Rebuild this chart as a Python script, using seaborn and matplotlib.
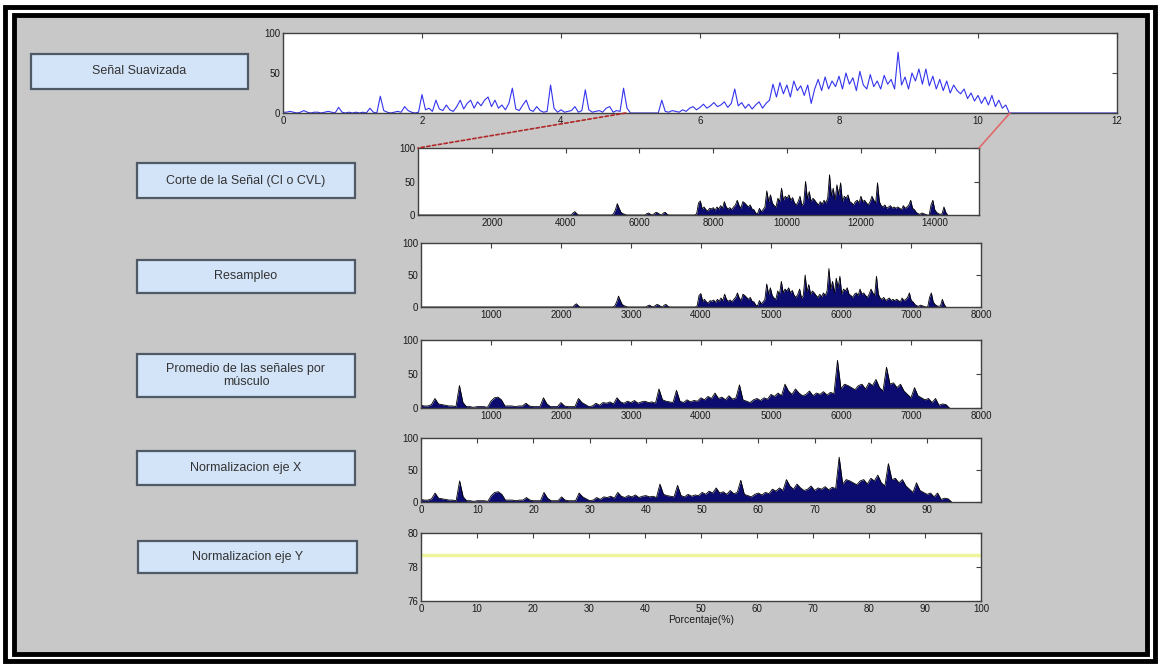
import numpy as np
import pandas as pd
import matplotlib
matplotlib.use("Agg")
import matplotlib.pyplot as plt
import seaborn as sns
from matplotlib.patches import Rectangle, ConnectionPatch
from matplotlib import font_manager

# ---------------- data ----------------
# Señal suavizada, one value every 0.05 s from 0 to 12 s
suavizada = [
    1, 1, 2, 1, 0, 1, 3, 1, 0, 1, 1, 0, 1, 2, 1, 0, 7, 1, 0, 1,
    0, 1, 0, 1, 0, 6, 1, 0, 21, 3, 1, 0, 1, 2, 1, 8, 3, 1, 0, 1,
    23, 4, 6, 2, 16, 5, 3, 10, 4, 2, 8, 16, 5, 12, 16, 6, 14, 9, 16, 20,
    8, 16, 6, 10, 4, 12, 31, 5, 3, 10, 16, 4, 2, 8, 3, 1, 2, 35, 6, 1,
    4, 1, 2, 3, 8, 1, 3, 29, 4, 1, 2, 3, 1, 6, 8, 1, 3, 2, 31, 6,
    0, 0, 0, 0, 0, 0, 0, 0, 0, 16, 2, 1, 3, 2, 1, 4, 2, 6, 8, 4,
    7, 11, 6, 9, 13, 8, 10, 14, 7, 12, 30, 9, 13, 6, 11, 5, 10, 14, 6, 12,
    16, 36, 20, 38, 24, 35, 20, 40, 28, 34, 22, 35, 12, 30, 42, 28, 45, 30, 40, 33,
    46, 30, 50, 36, 44, 28, 52, 35, 30, 48, 33, 40, 30, 47, 36, 42, 30, 76, 35, 45,
    30, 50, 40, 55, 36, 55, 34, 46, 30, 42, 28, 40, 25, 35, 28, 24, 30, 18, 25, 15,
    22, 12, 20, 10, 22, 8, 16, 6, 10, 0,
    0, 0, 0, 0, 0, 0, 0, 0, 0, 0, 0, 0, 0, 0, 0, 0, 0, 0, 0, 0,
    0, 0, 0, 0, 0, 0, 0, 0, 0, 0, 0,
]
suav_step = 0.05

# Corte de la señal, one value every 50 samples (0 .. 14350)
corte = [
    0, 0, 0, 0, 0, 0, 0, 0, 0, 0, 0, 0, 0, 0, 0, 0, 0, 0, 0, 0,
    0, 0, 0, 0, 0, 0, 0, 0, 0, 0, 0, 0, 0, 0, 0, 0, 0, 0, 0, 0,
    0, 0, 0, 0, 0, 0, 0, 0, 0, 0, 0, 0, 0, 0, 0, 0, 0, 0, 0, 0,
    0, 0, 0, 0, 0, 0, 0, 0, 0, 0, 0, 0, 0, 0, 0, 0, 0, 0, 0, 0,
    0, 0, 0, 0, 3, 5, 2, 0, 0, 0, 0, 0, 0, 0, 0, 0, 0, 0, 0, 0,
    0, 0, 0, 0, 0, 0, 2, 8, 17, 10, 4, 2, 1, 0, 0, 0, 0, 0, 0, 0,
    0, 0, 0, 0, 2, 3, 1, 0, 2, 4, 3, 1, 0, 3, 4, 1, 0, 0, 0, 0,
    0, 0, 0, 0, 0, 0, 0, 0, 0, 0, 0, 2, 18, 21, 9, 12, 8, 6, 10, 9,
    11, 7, 12, 9, 14, 10, 20, 12, 9, 11, 8, 12, 15, 22, 14, 10, 20, 18, 15, 12,
    15, 9, 8, 3, 2, 10, 5, 8, 12, 36, 20, 30, 18, 14, 12, 25, 20, 40, 22, 28,
    25, 30, 22, 26, 18, 15, 20, 28, 14, 18, 50, 24, 35, 20, 25, 22, 18, 15, 20, 16,
    22, 18, 25, 60, 28, 40, 22, 45, 30, 48, 20, 28, 25, 30, 20, 18, 15, 20, 22, 18,
    28, 20, 22, 18, 15, 20, 28, 22, 18, 48, 20, 14, 12, 15, 10, 12, 14, 10, 12, 10,
    12, 10, 8, 14, 10, 12, 15, 22, 10, 8, 4, 2, 1, 3, 2, 1, 0, 0, 15, 22,
    8, 4, 2, 1, 2, 12, 4, 0,
]
corte_step = 50
resampleo_len = 7500

# Promedio de las señales por músculo, one value every 50 samples (0 .. 7550)
promedio = [
    4, 3, 3, 5, 14, 6, 5, 4, 3, 3,
    2, 33, 8, 2, 2, 1, 2, 2, 2, 1,
    10, 15, 16, 12, 3, 3, 3, 2, 3, 3,
    7, 3, 2, 2, 2, 15, 6, 2, 2, 2,
    8, 3, 2, 2, 2, 14, 8, 5, 2, 3,
    7, 4, 8, 7, 9, 6, 15, 9, 7, 10,
    8, 11, 7, 9, 10, 8, 9, 7, 28, 12,
    10, 9, 8, 26, 10, 8, 12, 9, 11, 10,
    15, 12, 17, 14, 22, 14, 16, 12, 18, 13,
    15, 34, 12, 10, 8, 12, 14, 11, 15, 13,
    20, 17, 22, 18, 35, 25, 20, 28, 22, 18,
    20, 25, 18, 22, 20, 24, 19, 23, 21, 70,
    28, 35, 33, 30, 27, 33, 35, 28, 37, 33,
    42, 30, 25, 60, 35, 37, 30, 35, 25, 20,
    15, 30, 18, 15, 12, 14, 8, 14, 4, 6,
    5, 0,
]
prom_step = 50
samples_per_percent = 80

norm_y_value = 78.7

button_labels = [
    "Señal Suavizada",
    "Corte de la Señal (CI o CVL)",
    "Resampleo",
    "Promedio de las señales por\nmúsculo",
    "Normalizacion eje X",
    "Normalizacion eje Y",
]

ticks_top = [0, 2, 4, 6, 8, 10, 12]
ticks_corte = [2000, 4000, 6000, 8000, 10000, 12000, 14000]
ticks_samples = [1000, 2000, 3000, 4000, 5000, 6000, 7000, 8000]
ticks_pct5 = [0, 10, 20, 30, 40, 50, 60, 70, 80, 90]
ticks_pct6 = [0, 10, 20, 30, 40, 50, 60, 70, 80, 90, 100]

# ---------------- style ----------------
sns.set_style("white")
names = {f.name for f in font_manager.fontManager.ttflist}
narrow = "Liberation Sans Narrow" if "Liberation Sans Narrow" in names else "Liberation Sans"
plt.rcParams["font.family"] = [narrow, "DejaVu Sans"]

W, H = 1160, 666
fig = plt.figure(figsize=(W / 100, H / 100), dpi=100)
fig.patch.set_facecolor("white")

# frames (behind everything)
fig.patches.append(Rectangle((5 / W, 1 - 661 / H), 1150 / W, 654 / H, transform=fig.transFigure,
                             facecolor="white", edgecolor="black", lw=3.5, zorder=-10))
fig.patches.append(Rectangle((14 / W, 1 - 654 / H), 1133 / W, 639 / H, transform=fig.transFigure,
                             facecolor="#c8c8c8", edgecolor="black", lw=3.5, zorder=-9))


def make_ax(x0, y0, x1, y1):
    ax = fig.add_axes([x0 / W, 1 - y1 / H, (x1 - x0) / W, (y1 - y0) / H])
    ax.set_zorder(2)
    ax.set_facecolor("white")
    for s in ax.spines.values():
        s.set_color("#404040")
        s.set_linewidth(1.0)
        s.set_visible(True)
    ax.tick_params(direction="in", length=3.5, width=0.8, top=True, right=True,
                   labelsize=7, colors="#404040", labelcolor="#1a1a1a", pad=2)
    return ax


def button(x0, y0, x1, y1, text):
    fig.patches.append(Rectangle((x0 / W, 1 - y1 / H), (x1 - x0) / W, (y1 - y0) / H,
                                 transform=fig.transFigure, facecolor="#d3e4f8",
                                 edgecolor="#505a66", lw=1.6, zorder=1))
    fig.text((x0 + x1) / 2 / W, 1 - (y0 + y1) / 2 / H, text, ha="center", va="center",
             fontsize=9, color="#333333", linespacing=1.15, zorder=3)


def area(ax, x, y):
    ax.fill_between(x, 0, y, color="#0c0c70", lw=0)
    sns.lineplot(x=x, y=y, ax=ax, color="black", lw=0.6, estimator=None)


# ---------------- top axis ----------------
ax0 = make_ax(283, 33, 1117, 113)
t = np.arange(len(suavizada)) * suav_step
sns.lineplot(x=t, y=suavizada, ax=ax0, color="#3434ee", lw=0.8, estimator=None)
ax0.set_xlim(0, 12)
ax0.set_ylim(0, 100)
ax0.set_xticks(ticks_top)
ax0.set_yticks([0, 50, 100])

# ---------------- corte ----------------
ax1 = make_ax(418, 148, 979, 215)
xc = np.arange(len(corte)) * corte_step
area(ax1, xc, corte)
ax1.set_xlim(0, 15200)
ax1.set_ylim(0, 100)
ax1.set_xticks(ticks_corte)
ax1.set_yticks([0, 50, 100])

# ---------------- resampleo ----------------
ax2 = make_ax(421, 243, 981, 307)
xr = np.linspace(0, resampleo_len, len(corte))
area(ax2, xr, corte)
ax2.set_xlim(1, 8000)
ax2.set_ylim(0, 100)
ax2.set_xticks(ticks_samples)
ax2.set_yticks([0, 50, 100])

# ---------------- promedio ----------------
ax3 = make_ax(421, 340, 981, 408)
xp = np.arange(len(promedio)) * prom_step
area(ax3, xp, promedio)
ax3.set_xlim(1, 8000)
ax3.set_ylim(0, 100)
ax3.set_xticks(ticks_samples)
ax3.set_yticks([0, 50, 100])

# ---------------- normalizacion X ----------------
ax4 = make_ax(421, 438, 981, 502)
area(ax4, xp / samples_per_percent, promedio)
ax4.set_xlim(0, 99.6)
ax4.set_ylim(0, 100)
ax4.set_xticks(ticks_pct5)
ax4.set_yticks([0, 50, 100])

# ---------------- normalizacion Y ----------------
ax5 = make_ax(421, 533, 981, 601)
sns.lineplot(x=[0, 100], y=[norm_y_value, norm_y_value], ax=ax5, color="#eef59c", lw=2.5)
ax5.set_xlim(0, 100)
ax5.set_ylim(76, 80)
ax5.set_xticks(ticks_pct6)
ax5.set_yticks([76, 78, 80])
ax5.set_xlabel("Porcentaje(%)", fontsize=7.5, color="#1a1a1a", labelpad=1)

for ax in (ax0, ax1, ax2, ax3, ax4, ax5):
    ax.set_xticklabels([str(int(v)) for v in ax.get_xticks()])
    ax.set_yticklabels([str(int(v)) for v in ax.get_yticks()])

# ---------------- buttons ----------------
button(31, 54, 248, 89, button_labels[0])
button(137, 163, 355, 198, button_labels[1])
button(137, 260, 355, 293, button_labels[2])
button(137, 354, 355, 397, button_labels[3])
button(137, 451, 355, 485, button_labels[4])
button(138, 541, 357, 573, button_labels[5])

# ---------------- zoom connectors ----------------
c1 = ConnectionPatch(xyA=(4.93, 0), coordsA=ax0.transData, xyB=(0, 100), coordsB=ax1.transData,
                     color="#b02828", lw=1.2, ls=(0, (2, 1.5)), zorder=5)
c2 = ConnectionPatch(xyA=(10.46, 0), coordsA=ax0.transData, xyB=(15200, 100), coordsB=ax1.transData,
                     color="#e06a6a", lw=1.2, zorder=5)
fig.add_artist(c1)
fig.add_artist(c2)

fig.savefig("out.png", dpi=100, facecolor=fig.get_facecolor())
